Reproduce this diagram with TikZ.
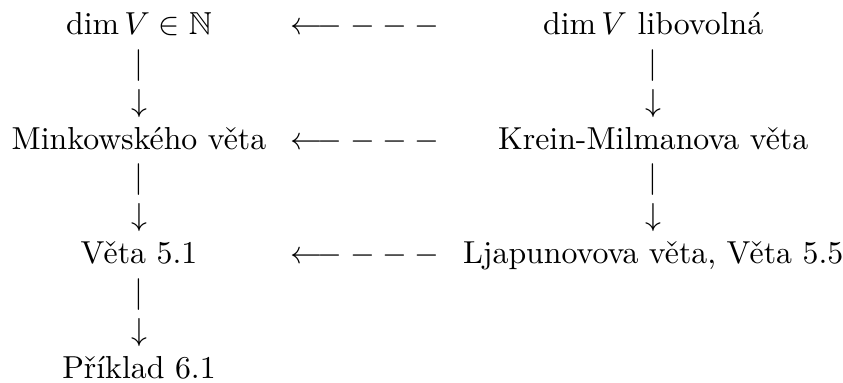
\documentclass[tikz,border=0pt]{standalone}
\usepackage{amssymb}
\usepackage{fontspec}
\begin{document}
\begin{tikzpicture}[x=1pt,y=-1pt,
  txt/.style={inner sep=0pt, outer sep=0pt, anchor=base}]
\useasboundingbox (0,0) rectangle (265.1,120.4);
% column centres
\def\ca{43.7}\def\cb{114.8}\def\cc{205.4}
% row 0
\node[txt] (a1) at (\ca,11) {$\dim V\in\mathbb{N}$};
\node[txt] (m1) at (\cb,11) {$\longleftarrow - - -$};
\node[txt] (b1) at (\cc,11) {$\dim V$ libovolná};
\node[txt] (a1bar) at (\ca,23) {$|$};
\node[txt] (b1bar) at (\cc,23) {$|$};
\node[txt] (a1arr) at (\ca,35) {$\downarrow$};
\node[txt] (b1arr) at (\cc,35) {$\downarrow$};
% row 3
\node[txt] (a2) at (\ca,47) {Minkowského věta};
\node[txt] (m2) at (\cb,47) {$\longleftarrow - - -$};
\node[txt] (b2) at (\cc,47) {Krein-Milmanova věta};
\node[txt] (a2bar) at (\ca,59) {$|$};
\node[txt] (b2bar) at (\cc,59) {$|$};
\node[txt] (a2arr) at (\ca,71) {$\downarrow$};
\node[txt] (b2arr) at (\cc,71) {$\downarrow$};
% row 6
\node[txt] (a3) at (\ca,83) {Věta 5.1};
\node[txt] (m3) at (\cb,83) {$\longleftarrow - - -$};
\node[txt] (b3) at (\cc,83) {Ljapunovova věta, Věta 5.5};
\node[txt] (a3bar) at (\ca,95) {$|$};
\node[txt] (a3arr) at (\ca,107) {$\downarrow$};
% row 9
\node[txt] (a4) at (\ca,119) {Příklad 6.1};
\end{tikzpicture}
\end{document}
